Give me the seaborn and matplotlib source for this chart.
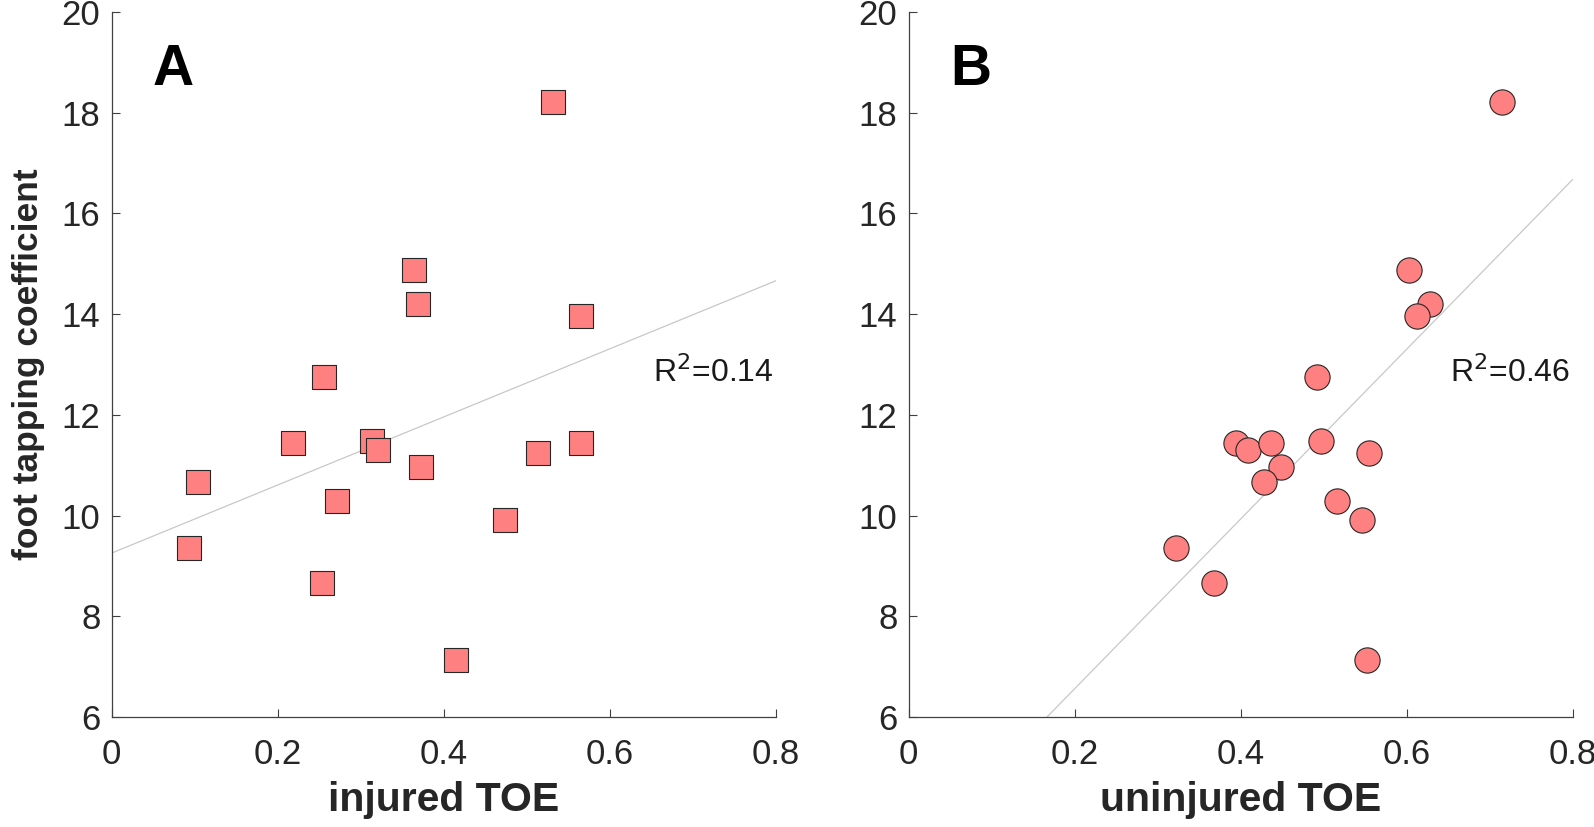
import numpy as np
import pandas as pd
import matplotlib
matplotlib.use("Agg")
import matplotlib.pyplot as plt
import seaborn as sns

# Data
tapping = [18.22, 14.87, 14.21, 13.97, 12.75, 11.44, 11.48, 11.30, 10.97,
           11.44, 11.24, 10.66, 10.29, 9.92, 9.36, 8.66, 7.13]
injured_toe = [0.532, 0.364, 0.369, 0.565, 0.256, 0.219, 0.313, 0.321, 0.373,
               0.565, 0.514, 0.104, 0.272, 0.474, 0.093, 0.253, 0.415]
uninjured_toe = [0.714, 0.603, 0.628, 0.612, 0.492, 0.394, 0.497, 0.409, 0.449,
                 0.436, 0.555, 0.428, 0.516, 0.546, 0.322, 0.368, 0.552]

panels = ["A", "B"]
xlabels = ["injured TOE", "uninjured TOE"]
r2_labels = ["R$^2$=0.14", "R$^2$=0.46"]
markers = ["s", "o"]
marker_sizes = [275, 330]

sns.set_style("white")
plt.rcParams['font.family'] = ['Liberation Sans', 'DejaVu Sans']

df = pd.DataFrame({"tapping": tapping, "injured": injured_toe, "uninjured": uninjured_toe})

fig = plt.figure(figsize=(15.94, 8.27), dpi=100)
ax_a = fig.add_axes([0.0700, 0.133, 0.4168, 0.8525])
ax_b = fig.add_axes([0.5700, 0.133, 0.4168, 0.8525])

for i, (ax, col) in enumerate(zip([ax_a, ax_b], ["injured", "uninjured"])):
    ax.set_xlim(0, 0.8)
    ax.set_ylim(6, 20)
    # regression line over the full x range
    sns.regplot(data=df, x=col, y="tapping", ax=ax, scatter=False, ci=None,
                truncate=False, line_kws={"color": "#c8c8c8", "lw": 0.9})
    sns.scatterplot(data=df, x=col, y="tapping", ax=ax, marker=markers[i],
                    s=marker_sizes[i], color="#ff8080", edgecolor="#262626",
                    linewidth=0.8, zorder=3)
    ax.set_xlim(0, 0.8)
    ax.set_ylim(6, 20)
    ax.set_xticks([0, 0.2, 0.4, 0.6, 0.8])
    ax.set_xticklabels(["0", "0.2", "0.4", "0.6", "0.8"])
    ax.set_yticks(range(6, 21, 2))
    ax.tick_params(direction="in", length=6, width=0.8, color="#404040",
                   labelsize=25, labelcolor="#262626", bottom=True, left=True)
    ax.tick_params(axis="x", pad=15)
    ax.tick_params(axis="y", pad=8)
    sns.despine(ax=ax)
    for side in ["left", "bottom"]:
        ax.spines[side].set_color("#404040")
        ax.spines[side].set_linewidth(0.9)
    ax.set_xlabel(xlabels[i], fontsize=29.5, fontweight="bold", labelpad=7)
    if i == 0:
        ax.set_ylabel("foot tapping coefficient", fontsize=25.5, fontweight="bold", labelpad=12)
    else:
        ax.set_ylabel("")
    ax.text(0.062, 0.896, panels[i], transform=ax.transAxes, fontsize=41,
            fontweight="bold", color="black")
    ax.text(0.652, 12.66, r2_labels[i], fontsize=23, color="#1a1a1a")

fig.savefig("out.png", dpi=100)
